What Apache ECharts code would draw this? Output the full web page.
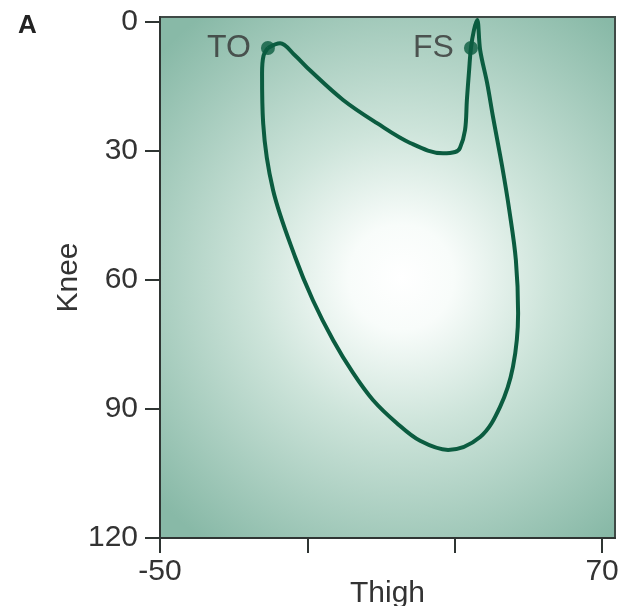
<!DOCTYPE html>
<html>
<head>
<meta charset="utf-8">
<script src="https://cdn.jsdelivr.net/npm/echarts@6/dist/echarts.min.js"></script>
<style>
  html, body { margin: 0; padding: 0; background: #fff; }
  #main { width: 627px; height: 606px; }
</style>
</head>
<body>
<div id="main"></div>
<script>
// angle-angle loop, thigh (x) vs knee (y)
var thigh = [-20.7, -17.4, -13.4, -9.3, -0.3, 8.9, 17.9, 26.8, 30.1, 31.4, 32.8, 33.3, 33.9, 34.4, 35.2, 36.1,
             36.9, 38.8, 40.4, 42.9, 44.8, 46.6, 47.2, 45.8, 42.3, 36.9, 28.2, 20.6, 14.3, 7.8,
             2.4, -3.0, -8.5, -13.3, -19.3, -22.0, -22.3, -21.9, -20.7];
var knee = [6.0, 4.9, 7.7, 11.2, 18.1, 23.5, 28.1, 30.5, 30.2, 29.3, 25.1, 18.1, 11.2, 6.0, 1.9, -0.5,
            6.5, 14.2, 22.1, 33.7, 43.7, 55.4, 67.7, 80.2, 89.5, 96.5, 99.5, 97.4, 93.3, 87.9,
            81.6, 74.0, 64.7, 54.7, 39.1, 23.5, 11.9, 7.8, 6.0];

var eventNames = ['TO', 'FS'];
var eventThigh = [-20.7, 34.4];
var eventKnee = [6.0, 6.0];

var xTicks = [-50, -10, 30, 70];
var xLabels = [-50, 70];
var yTicks = [0, 30, 60, 90, 120];

var lineColor = '#0b5c40';
var textColor = '#333333';
var font = 'Liberation Sans, Arial, Helvetica, sans-serif';

var chart = echarts.init(document.getElementById('main'));

var loopData = thigh.map(function (t, i) { return [t, knee[i]]; });
var eventData = eventNames.map(function (n, i) { return { name: n, value: [eventThigh[i], eventKnee[i]] }; });

var option = {
    backgroundColor: '#ffffff',
    animation: false,
    title: {
        text: 'A',
        left: 13,
        top: 8,
        textStyle: { fontSize: 26, fontWeight: 'bold', color: '#222', fontFamily: font }
    },
    grid: {
        left: 160,
        right: 12,
        top: 17,
        bottom: 68,
        containLabel: false,
        outerBoundsMode: 'none',
        show: true,
        borderColor: '#3f4a46',
        borderWidth: 2,
        backgroundColor: {
            type: 'radial',
            x: 0.53, y: 0.5, r: 0.72,
            colorStops: [
                { offset: 0, color: '#ffffff' },
                { offset: 0.16, color: '#f8fcfa' },
                { offset: 0.45, color: '#cde4da' },
                { offset: 1, color: '#88b9a7' }
            ]
        }
    },
    xAxis: {
        type: 'value',
        min: -50,
        max: 73.5,
        name: 'Thigh',
        nameLocation: 'middle',
        nameGap: 41,
        nameMoveOverlap: false,
        nameTextStyle: { fontSize: 30, color: textColor, fontFamily: font },
        splitLine: { show: false },
        axisLine: { onZero: false, lineStyle: { color: '#2f3533', width: 2 } },
        axisTick: { customValues: xTicks, length: 15, lineStyle: { color: '#2f3533', width: 2 } },
        axisLabel: { customValues: xLabels, fontSize: 30, color: textColor, margin: 19, fontFamily: font }
    },
    yAxis: {
        type: 'value',
        inverse: true,
        min: -1.2,
        max: 120,
        name: 'Knee',
        nameLocation: 'middle',
        nameGap: 76,
        nameMoveOverlap: false,
        nameTextStyle: { fontSize: 30, color: textColor, fontFamily: font },
        splitLine: { show: false },
        axisLine: { onZero: false, lineStyle: { color: '#2f3533', width: 2 } },
        axisTick: { customValues: yTicks, length: 15, lineStyle: { color: '#2f3533', width: 2 } },
        axisLabel: { customValues: yTicks, fontSize: 30, color: textColor, margin: 22, fontFamily: font }
    },
    series: [
        {
            type: 'line',
            data: loopData,
            smooth: 0.35,
            symbol: 'none',
            lineStyle: { color: lineColor, width: 4 }
        },
        {
            type: 'scatter',
            data: eventData,
            symbolSize: 14,
            itemStyle: { color: lineColor },
            label: {
                show: true,
                position: 'left',
                distance: 10,
                formatter: '{b}',
                fontSize: 32,
                color: textColor,
                fontFamily: font
            }
        }
    ]
};

chart.setOption(option);
</script>
</body>
</html>
